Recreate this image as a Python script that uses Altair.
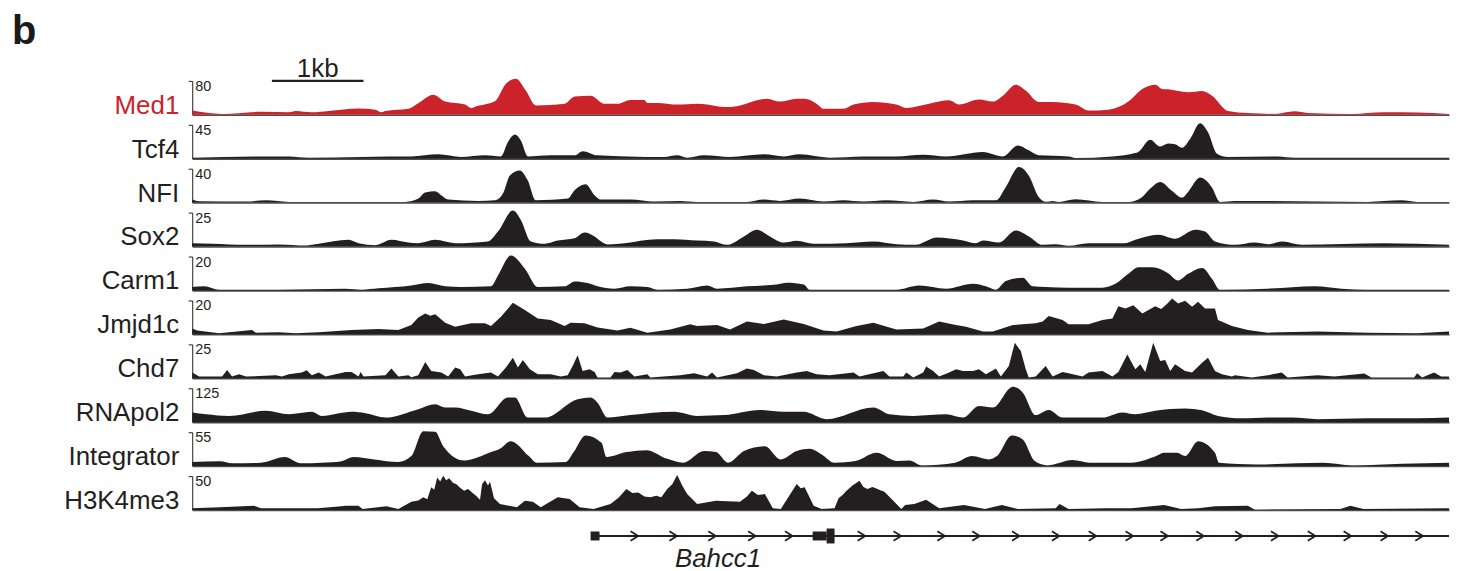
import altair as alt
import pandas as pd

# ---------------- data ----------------
TRACK_NAMES = ["Med1", "Tcf4", "NFI", "Sox2", "Carm1", "Jmjd1c", "Chd7", "RNApol2", "Integrator", "H3K4me3"]
SCALE_MAX = [80, 45, 40, 25, 20, 20, 25, 125, 55, 50]

MED1_POS = [193,223,263,290,297,313,330,360,377,383,387,410,420,435,447,467,473,480,497,508,518,528,538,567,577,593,607,620,633,647,650,660,680,700,710,727,740,760,770,783,800,808,820,827,847,857,877,900,910,933,953,963,983,997,1007,1020,1030,1043,1057,1080,1093,1113,1133,1147,1160,1167,1173,1193,1207,1217,1233,1253,1280,1300,1313,1357,1390,1423,1455]
MED1_VAL = [10,2,7,6,9,6,9,15,12,6,9,14,27,47,31,24,16,21,32,73,85,57,22,26,43,45,26,26,35,35,28,28,24,26,24,18,20,34,38,31,38,38,26,14,14,24,30,24,16,26,34,24,36,31,45,71,57,30,30,24,10,12,31,61,71,61,60,53,56,45,9,4,2,8,4,2,6,5,2]

TCF4_POS = [193,290,310,363,390,413,440,463,487,503,510,517,523,530,553,577,585,600,630,667,680,690,707,733,767,787,803,833,867,900,927,950,987,1007,1022,1033,1043,1073,1080,1117,1137,1143,1155,1165,1173,1180,1187,1195,1205,1213,1222,1233,1283,1300,1455]
TCF4_VAL = [1.3,3,1.3,2.2,3,3,5.7,2.2,4.4,3,22,32,24,3,4.4,4.4,10,4.4,3,2.2,4.4,1.3,4.4,2.2,5.7,3,5.7,1.3,3,3,5.3,3,8.8,3,17.6,11,4.4,3,1,3,6.6,8.8,25,16,20,19,14.5,26,47,35,6.6,2.2,3,1.3,1.3]

NFI_POS = [193,200,247,267,290,407,420,427,437,443,450,480,497,505,512,522,530,538,570,577,588,597,603,633,657,683,700,750,767,783,803,827,847,867,890,917,937,953,977,1000,1010,1023,1033,1043,1050,1057,1063,1080,1107,1133,1147,1155,1165,1177,1187,1193,1205,1217,1225,1240,1373,1407,1423,1455]
NFI_VAL = [3.5,1.5,1.2,2.7,0.8,0.8,4.7,12,13.3,8.6,3.5,2,2.7,10.6,32,38,26,2.7,4.7,14.5,21.6,8.6,3.5,3.5,1.2,2,0.8,0.8,3.5,2,4.7,1.2,2.7,1.2,2.7,0.8,3.5,1.2,2.7,2.7,18.5,42,32,6.7,1,2,0.8,3.9,0.8,0.8,6.7,16.5,24.4,13.8,5.9,12.6,29.5,17.7,0.8,2,0.8,2.7,0.8,0.8]

SOX2_POS = [193,213,247,280,307,320,350,360,377,393,410,420,437,457,490,500,515,523,533,547,560,577,587,597,603,610,633,643,660,677,700,717,730,747,760,773,787,800,817,850,877,900,920,933,940,967,980,987,1003,1020,1033,1047,1060,1073,1093,1130,1140,1163,1180,1200,1210,1220,1240,1260,1273,1288,1307,1390,1455]
SOX2_VAL = [2.4,2,1.2,1.5,0.7,2,4.9,2.4,1,4.9,2.9,2.4,4.9,2.4,3.7,11,26.5,19.6,3.7,2,4.4,6.1,10.3,7.4,4,1.5,2.9,4.2,5.4,5.4,4.4,3.7,1.2,7.4,12.3,7.4,2.9,4.2,2,2.4,3.7,1.7,1.2,4.9,6.6,4.4,2.4,4.4,2.9,11.8,7.4,1.2,1.7,0.5,2.4,2.4,4.9,8.6,5.7,12.3,11,3.7,1.2,2.9,1.7,3.7,1.2,2.4,1.2]

CARM1_POS = [193,205,220,280,347,363,380,413,430,447,463,493,500,513,527,540,567,577,590,600,617,633,650,660,690,710,720,750,767,780,790,807,813,900,923,950,977,990,1000,1010,1027,1037,1050,1073,1107,1120,1133,1143,1157,1173,1183,1193,1207,1217,1225,1273,1320,1347,1373,1455]
CARM1_VAL = [2,2.5,0.4,0.4,1,0.4,1.2,2.9,4.3,2.4,2,2.4,8.8,20.6,12.8,2,2.4,5.3,4.3,2.4,1,2.4,2,0.4,1,2.9,1,2.4,2.9,3.5,4.5,3.5,0.4,0.4,2.9,1,3.9,2.4,0.4,5.5,7.5,2.4,2,1.6,1.6,3.9,9.8,13.7,13.7,10.2,5.9,9.8,13.3,6.9,0.4,1,2.4,1,0.4,0.4]

JMJD1C_POS = [193,198,220,253,257,280,297,320,353,380,400,413,420,427,432,437,447,457,473,487,493,503,515,527,540,553,567,573,587,600,620,633,650,673,693,700,720,733,750,767,787,807,827,840,860,877,900,927,943,960,970,987,997,1017,1040,1047,1053,1067,1073,1093,1107,1117,1123,1130,1138,1147,1160,1166,1172,1177,1183,1190,1197,1203,1210,1220,1223,1237,1253,1273,1323,1373,1423,1455]
JMJD1C_VAL = [3.5,2.2,0.6,2.5,1,1.2,0.6,1.2,2.5,3.1,2.5,5.5,10,12.3,11,11.9,6.9,4.5,6.5,6.5,4.9,10.4,18.6,14.3,9.4,8.4,4.9,6.9,6.5,4.1,2.2,3.9,1,2.9,5.9,4.9,5.5,2.9,7.5,6.1,8.8,6.1,2.2,1.6,4.9,6.9,2.9,3.5,7.5,5.5,4.5,1.6,1.6,5.5,6.5,7.5,10.8,8.4,5.9,5.9,8.4,9.4,16.6,15.3,17.2,12.3,16.6,15,18,21.2,18.2,19.8,16.3,19.2,15.3,15.3,8.4,4.9,2.5,1,1.6,1,0.6,1.6]

CHD7_POS = [193,200,223,228,233,240,247,277,283,290,303,308,313,320,327,347,353,360,362,365,387,393,400,410,413,420,427,433,443,450,457,462,467,480,493,500,508,515,520,525,532,540,553,563,570,575,580,585,592,597,600,613,617,623,630,637,650,653,683,697,710,715,720,740,750,757,767,780,800,810,820,833,857,863,887,893,907,910,917,927,930,937,943,953,960,967,977,983,990,1000,1005,1013,1019,1025,1030,1033,1040,1050,1057,1067,1073,1087,1093,1107,1117,1123,1132,1140,1145,1150,1158,1165,1170,1175,1180,1190,1197,1207,1213,1220,1227,1237,1240,1257,1273,1287,1293,1323,1340,1370,1377,1420,1423,1428,1440,1447,1455]
CHD7_VAL = [4.2,1.2,1.2,6.1,1.2,2.9,1.2,2.2,1.2,2.9,4.2,5.9,2.2,4.2,1.2,4.6,4.6,1.2,4.6,1.2,2.2,7.1,1.2,2.2,0.7,2.2,12,5.4,4.2,1.2,7.9,6.6,1.2,2.9,4.2,1.2,7.9,15.2,7.9,13.5,6.6,2.9,2.9,1.2,2.2,9,16.9,5.4,6.6,4.6,0.5,0.5,4.6,4.2,6.1,1.2,2.9,0.5,2.2,3.7,1.2,4.2,0.5,3.7,7.1,6.1,2.2,1.2,4.2,5.4,2.9,2.2,4.2,1.2,5.4,1.2,1.2,4.2,0.5,4.2,8.6,5.4,1.2,4.2,6.6,5.4,5.4,6.6,2.9,7.1,1.2,9,26.2,20.1,6.6,0.5,1.2,9,1.2,4.6,3.7,1.2,4.2,5.4,1.2,4.6,17.6,6.6,10.3,4.6,26.2,12.7,13.5,5.4,10.3,5.4,4.2,11.5,15.2,5.4,2.9,1.2,2.2,0.5,2.2,4.2,0.5,2.2,1.2,3.5,0.5,0.5,3.7,0.5,4.2,1.2,1.2]

RNAPOL2_POS = [193,207,230,267,290,313,323,353,367,387,420,437,447,457,473,490,510,517,530,547,580,593,600,610,633,677,700,727,763,787,807,830,877,893,917,950,967,983,997,1017,1027,1040,1053,1067,1107,1127,1140,1160,1190,1207,1223,1247,1273,1297,1323,1373,1423,1455]
RNAPOL2_VAL = [36,29,23,42,29,38,23,38,33,17,48,66,54,54,42,29,91,91,17,17,85,91,72,17,26,38,23,26,45,38,38,11,54,29,23,29,17,60,54,131,109,26,45,17,17,36,29,42,50,44,23,14,17,17,11,14,14,17]

INTEGRATOR_POS = [193,221,233,262,286,302,323,343,355,376,400,413,425,437,445,466,494,502,513,531,539,568,576,588,604,609,629,649,670,686,707,719,731,747,768,784,800,813,825,838,859,880,901,913,926,959,976,993,1001,1016,1027,1039,1052,1077,1094,1136,1161,1169,1182,1190,1203,1220,1224,1262,1329,1358,1408,1455]
INTEGRATOR_VAL = [6.5,8,4.4,5.4,14.6,4.4,5.4,8,14.6,10.8,6.5,16.2,56.7,55.6,32.4,9.2,23.2,28,40.5,16.2,5.4,6.5,22.7,49.7,37.7,14.6,22.7,25.9,11.8,5.4,24.3,22.7,5.4,24.3,32.4,10.8,24.3,28,19,5.4,8.1,21.5,8.1,9.2,1.1,5.4,16.2,10.8,16.2,49.7,43.2,8.1,1.1,9.7,5.4,5.4,16.2,21.5,21.5,16.2,40.5,21.5,5.4,2.7,5.4,1.1,3.7,5.4]

H3K4ME3_POS = [193,221,255,262,319,343,347,360,364,388,400,413,420,425,429,433,436,439,442,445,448,451,455,458,462,466,470,474,478,482,484,487,490,492,494,496,502,519,527,535,543,560,572,582,596,613,621,629,635,641,647,653,659,664,670,675,680,685,690,700,719,743,750,755,761,768,776,784,800,804,808,817,825,838,842,846,850,856,863,867,871,876,880,884,888,897,905,909,918,930,943,968,989,1006,1022,1060,1064,1073,1111,1136,1169,1186,1203,1220,1253,1260,1346,1356,1369,1455]
H3K4ME3_VAL = [2.5,4,6.3,2.5,2.5,5.4,6.3,6.3,1.5,5.4,1.5,12.2,14,18.7,16,33.4,30,48,42,50.4,44,47,40,38.2,33,28.4,31,26,21,15.1,38,44,36,41.6,30,17.2,8.8,4,13.7,12.2,4,18.7,16.2,4,1.5,8.8,18,30.9,25,26,20,18.7,21,18.7,30.9,38,51.5,36,23.5,8.8,13.7,12.2,20,28.4,22,23.5,2.5,1.5,38.2,32,33.4,6.3,1.5,2.5,17.2,22,28.4,36,43.1,34,30.9,34,31.9,29,26.9,13.7,1.5,7.4,8.8,15.1,2.5,7.4,1.5,7.4,1.5,2.5,8.8,1.5,2.5,2.5,7.4,1.5,2.5,5.4,6.3,0.5,1.5,6.3,1.5,2.5]

# genome window (bins of ~10.9 bp) and annotations
WINDOW = [193, 1455]
SCALEBAR = [273, 365]          # 1 kb
GENE_NAME = "Bahcc1"
GENE_SPAN = [595, 1455]
EXON_START = [593, 816, 830]
EXON_END = [602, 830, 838]
EXON_KIND = ["utr", "utr", "cds"]
STRAND_ARROWS = [637, 676, 715, 755, 792, 865, 901, 945, 980, 1020, 1060, 1097, 1134, 1169, 1205, 1244, 1280, 1317, 1353, 1390, 1425]
GENE_LABEL_POS = 721

SERIES = [
    (MED1_POS, MED1_VAL, "monotone"),
    (TCF4_POS, TCF4_VAL, "monotone"),
    (NFI_POS, NFI_VAL, "monotone"),
    (SOX2_POS, SOX2_VAL, "monotone"),
    (CARM1_POS, CARM1_VAL, "monotone"),
    (JMJD1C_POS, JMJD1C_VAL, "linear"),
    (CHD7_POS, CHD7_VAL, "linear"),
    (RNAPOL2_POS, RNAPOL2_VAL, "monotone"),
    (INTEGRATOR_POS, INTEGRATOR_VAL, "monotone"),
    (H3K4ME3_POS, H3K4ME3_VAL, "linear"),
]

# ---------------- style ----------------
FONT = "Liberation Sans"
INK = "#231f20"
RED = "#cc2229"
W = 1262
TRACK_H = 34
GAP = 10.1

X_SCALE = alt.Scale(domain=WINDOW, nice=False, zero=False)


def one(d):
    return pd.DataFrame([d])


def track(i):
    name = TRACK_NAMES[i]
    ymax = SCALE_MAX[i]
    pos, val, interp = SERIES[i]
    color = RED if i == 0 else INK
    df = pd.DataFrame({"pos": pos, "signal": val})
    area = alt.Chart(df).mark_area(color=color, interpolate=interp, opacity=1).encode(
        x=alt.X("pos:Q", scale=X_SCALE,
                axis=alt.Axis(title=None, labels=False, ticks=False, grid=False,
                              domainColor="#4d4d4d", domainWidth=1.6)),
        y=alt.Y("signal:Q", scale=alt.Scale(domain=[0, ymax], nice=False, zero=True),
                axis=alt.Axis(title=None, labels=False, grid=False, values=[ymax],
                              tickSize=4, tickColor=INK, tickWidth=1,
                              domainColor=INK, domainWidth=1)),
    )
    label = alt.Chart(one({"t": name})).mark_text(
        align="right", baseline="alphabetic", fontSize=26, font=FONT, color=color
    ).encode(text="t:N", x=alt.value(-13), y=alt.value(33))
    scale_lbl = alt.Chart(one({"t": str(ymax)})).mark_text(
        align="left", baseline="alphabetic", fontSize=14.5, font=FONT, color=INK
    ).encode(text="t:N", x=alt.value(3), y=alt.value(10))
    layers = [area, label, scale_lbl]
    if i == 0:
        anchor = alt.Chart(one({"a": 0})).mark_rule(opacity=0, strokeWidth=1).encode(
            x=alt.value(-185), x2=alt.value(-183), y=alt.value(-72), y2=alt.value(-72))
        panel = alt.Chart(one({"t": "b"})).mark_text(
            align="left", baseline="alphabetic", fontSize=40, fontWeight="bold", font=FONT, color="#1a1a1a"
        ).encode(text="t:N", x=alt.value(-181), y=alt.value(-37))
        bar_df = one({"start": SCALEBAR[0], "end": SCALEBAR[1], "t": "1kb"})
        bar = alt.Chart(bar_df).mark_rule(color=INK, strokeWidth=2.5).encode(
            x=alt.X("start:Q", scale=X_SCALE), x2="end:Q", y=alt.value(0))
        bar_txt = alt.Chart(bar_df).transform_calculate(mid="(datum.start + datum.end) / 2").mark_text(
            align="center", baseline="alphabetic", fontSize=26, font=FONT, color=INK
        ).encode(text="t:N", x=alt.X("mid:Q", scale=X_SCALE), y=alt.value(-4))
        layers = [anchor, panel, bar, bar_txt] + layers
    return alt.layer(*layers).properties(width=W, height=TRACK_H)


def gene_track():
    line = alt.Chart(one({"start": GENE_SPAN[0], "end": GENE_SPAN[1]})).mark_rule(
        color=INK, strokeWidth=2).encode(
        x=alt.X("start:Q", scale=X_SCALE, axis=None), x2="end:Q", y=alt.value(16))
    exons = pd.DataFrame({"start": EXON_START, "end": EXON_END, "kind": EXON_KIND})
    utr = alt.Chart(exons).transform_filter("datum.kind == 'utr'").mark_rect(color=INK).encode(
        x=alt.X("start:Q", scale=X_SCALE, axis=None), x2="end:Q", y=alt.value(11.5), y2=alt.value(20.5))
    cds = alt.Chart(exons).transform_filter("datum.kind == 'cds'").mark_rect(color=INK).encode(
        x=alt.X("start:Q", scale=X_SCALE, axis=None), x2="end:Q", y=alt.value(8.5), y2=alt.value(23.5))
    arrows = alt.Chart(pd.DataFrame({"pos": STRAND_ARROWS})).mark_point(
        shape="M-0.8,-1L0.8,0L-0.8,1", filled=False, color=INK, strokeWidth=1.8, size=90, opacity=1
    ).encode(x=alt.X("pos:Q", scale=X_SCALE, axis=None), y=alt.value(16))
    name = alt.Chart(one({"pos": GENE_LABEL_POS, "t": GENE_NAME})).mark_text(
        align="center", baseline="alphabetic", fontSize=26, fontStyle="italic", font=FONT, color=INK
    ).encode(text="t:N", x=alt.X("pos:Q", scale=X_SCALE, axis=None), y=alt.value(47))
    return alt.layer(line, utr, cds, arrows, name).properties(width=W, height=50)


panels = [track(i) for i in range(len(TRACK_NAMES))] + [gene_track()]

chart = alt.vconcat(*panels, spacing=GAP, bounds="flush").properties(
    padding=0
).configure_view(strokeOpacity=0)

chart.save("out.html", embed_options={"renderer": "svg", "actions": False})
